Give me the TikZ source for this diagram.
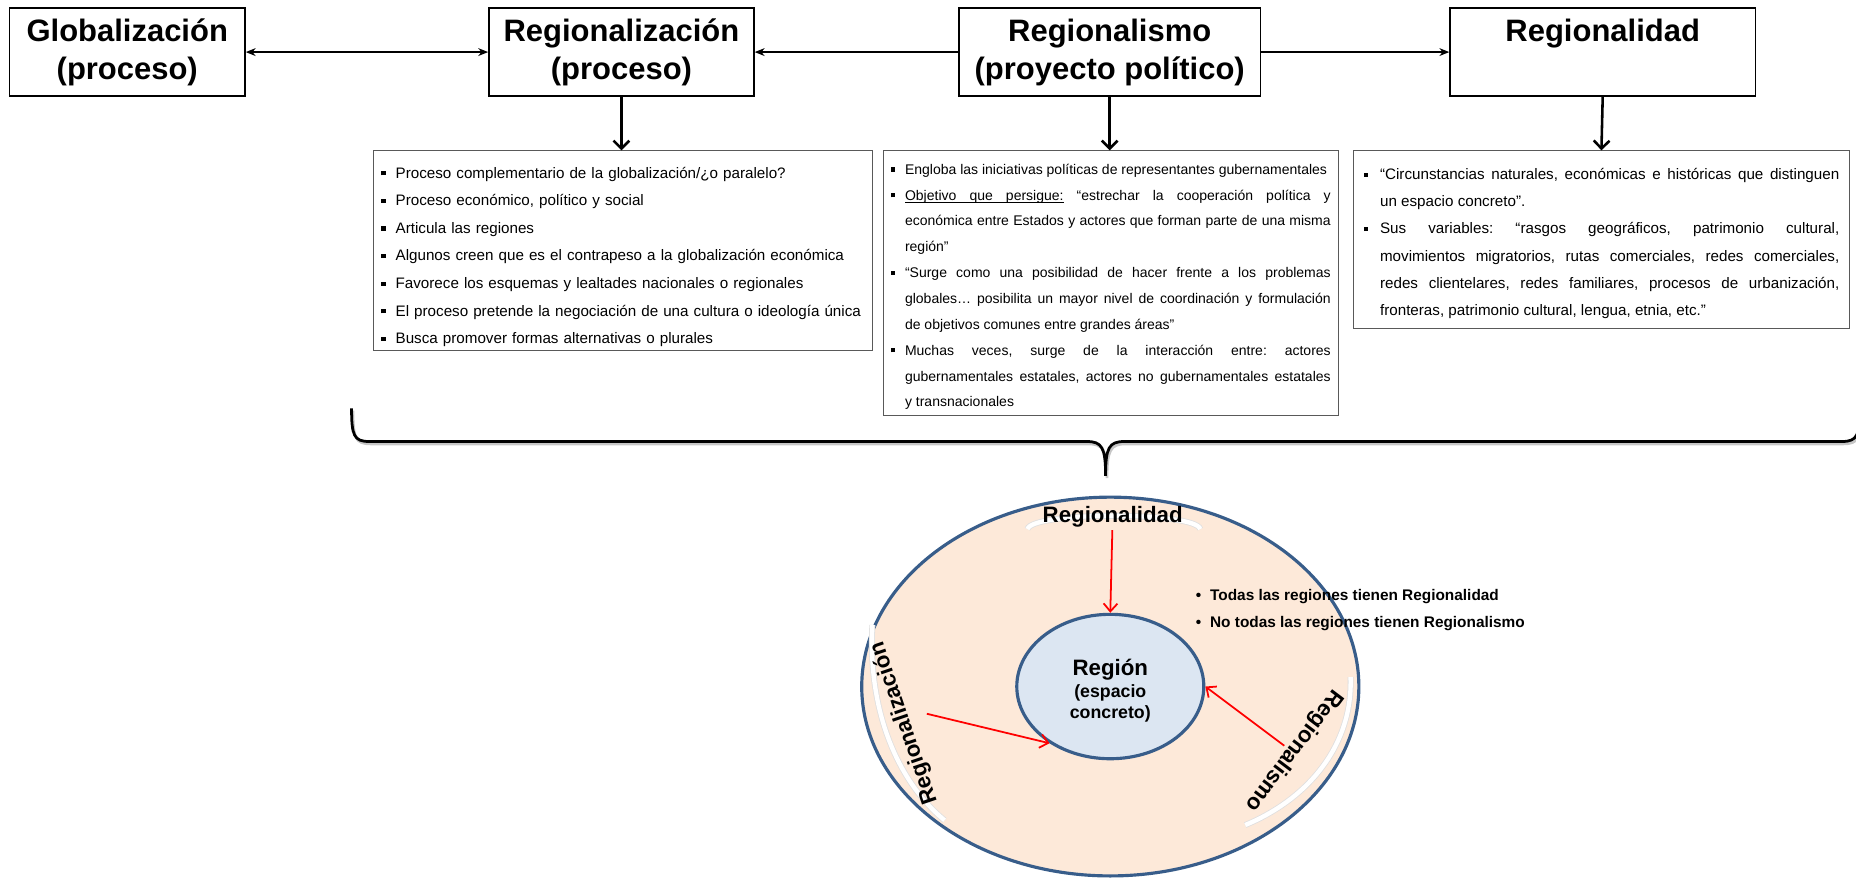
\documentclass[tikz,border=0pt]{standalone}
\usepackage{fontspec}
\setmainfont{Liberation Sans}
\usetikzlibrary{arrows.meta,shapes.geometric}

\definecolor{ringfill}{HTML}{FDE9D9}
\definecolor{corefill}{HTML}{DCE6F2}
\definecolor{ringline}{HTML}{385D8A}

\tolerance=9999
\frenchspacing
\newcommand{\sqmark}[1]{\hangindent=#1\hangafter=1\makebox[#1][l]{\rule[1.4pt]{2.1pt}{2.1pt}}}
\newcommand{\sqfirst}[2]{\ifvmode\prevdepth=-1000pt\noindent\fi\sqmark{#1}\rule{0pt}{#2}}
\newcommand{\sqitem}[1]{\par\noindent\sqmark{#1}}
\newcommand{\dotitem}{\makebox[7.2pt][l]{•}}
\newcommand{\ulword}[1]{\setbox0\hbox{#1}\rlap{\rule[-1.6pt]{\wd0}{0.45pt}}\box0\relax}
\newcommand{\ulspace}{\leaders\hrule height -1.15pt depth 1.6pt\hskip\fontdimen2\font plus\fontdimen3\font minus\fontdimen4\font}
\newcommand{\bracepath}{(297,345) .. controls (297,368) and (299,373) .. (312,373) -- (918,373) .. controls (931,373) and (934,378) .. (934,402) .. controls (934,378) and (937,373) .. (950,373) -- (1556,373) .. controls (1569,373) and (1571,368) .. (1572,345)}

\tikzset{
  >={Stealth[length=5pt,width=4pt]},
  titlebox/.style={draw, line width=0.8pt, align=center, inner sep=0pt, minimum height=44.4pt,
    font=\fontsize{15.7}{19.2}\selectfont\bfseries},
  listbox/.style={draw=gray!70!black, line width=0.5pt, anchor=north west},
  link/.style={line width=0.6pt},
  down/.style={line width=1.3pt, -{Straight Barb[length=4pt,width=8pt]}},
  redarrow/.style={red, line width=0.9pt, -{Straight Barb[length=4pt,width=7pt]}},
  ringlabel/.style={inner sep=1pt, font=\fontsize{11.3}{13}\selectfont\bfseries},
  glow/.style={draw=gray!25, double=white, double distance=2.2pt, line width=0.4pt},
}

\begin{document}
\begin{tikzpicture}[x=0.6pt,y=-0.6pt]
\useasboundingbox (0,0) rectangle (1568,741);

\node[titlebox, minimum width=119.4pt] (glob) at (107.5,44) {Globalización\\(proceso)};
\node[titlebox, minimum width=134.4pt] (regz) at (525,44) {Regionalización\\(proceso)};
\node[titlebox, minimum width=153pt] (regm) at (937.5,44) {Regionalismo\\(proyecto político)};
\node[titlebox, minimum width=154.8pt] (regd) at (1354,44) {Regionalidad\\\phantom{(p)}};

\draw[link, <->] (glob) -- (regz);
\draw[link, ->] (regm) -- (regz);
\draw[link, ->] (regm) -- (regd);

\node[listbox, text width=245pt, inner xsep=4.1pt, inner ysep=2pt, align=left,
  font=\fontsize{7.7}{14}\selectfont] (lst1) at (315,127) {%
\sqfirst{7.2pt}{11.8pt}Proceso complementario de la globalización/¿o paralelo?
\sqitem{7.2pt}Proceso económico, político y social
\sqitem{7.2pt}Articula las regiones
\sqitem{7.2pt}Algunos creen que es el contrapeso a la globalización económica
\sqitem{7.2pt}Favorece los esquemas y lealtades nacionales o regionales
\sqitem{7.2pt}El proceso pretende la negociación de una cultura o ideología única
\sqitem{7.2pt}Busca promover formas alternativas o plurales\par};

\node[listbox, text width=223pt, inner xsep=3.7pt, inner ysep=2.8pt, align=justify,
  font=\fontsize{7.1}{13.1}\selectfont] (lst2) at (746,127) {%
\sqfirst{7.2pt}{9.1pt}Engloba las iniciativas políticas de representantes gubernamentales
\sqitem{7.2pt}\ulword{Objetivo}\ulspace\ulword{que}\ulspace\ulword{persigue:} “estrechar la cooperación política y\linebreak económica entre Estados y actores que forman parte de una misma\linebreak región”
\sqitem{7.2pt}“Surge como una posibilidad de hacer frente a los problemas\linebreak globales… posibilita un mayor nivel de coordinación y formulación\linebreak de objetivos comunes entre grandes áreas”
\sqitem{7.2pt}Muchas veces, surge de la interacción entre: actores\linebreak gubernamentales estatales, actores no gubernamentales estatales\linebreak y transnacionales\par};

\node[listbox, text width=241.2pt, inner xsep=5.1pt, inner ysep=4.9pt, align=justify,
  font=\fontsize{7.7}{13.8}\selectfont] (lst3) at (1143,127) {%
\sqfirst{8.4pt}{9.6pt}“Circunstancias naturales, económicas e históricas que distinguen\linebreak un espacio concreto”.
\sqitem{8.4pt}Sus variables: “rasgos geográficos, patrimonio cultural,\linebreak movimientos migratorios, rutas comerciales, redes comerciales,\linebreak redes clientelares, redes familiares, procesos de urbanización,\linebreak fronteras, patrimonio cultural, lengua, etnia, etc.”\par};

\draw[down] (regz.south) -- (regz.south |- lst1.north);
\draw[down] (regm.south) -- (regm.south |- lst2.north);
\draw[down] (regd.south) -- (lst3.north);

\draw[gray!45, line width=1.4pt, shift={(1.2,2)}] \bracepath;
\draw[line width=1.4pt] \bracepath;

\node[ellipse, draw=ringline, line width=1.6pt, fill=ringfill, minimum width=252pt, minimum height=192pt] (ring) at (938,580) {};
\node[ellipse, draw=ringline, line width=1.6pt, fill=corefill, minimum width=94.8pt, minimum height=73.2pt,
  inner sep=0pt, align=center, font=\bfseries] (core) at (938,580)
  {\rule{0pt}{12.6pt}{\fontsize{11.3}{12}\selectfont Región}\\[-1pt]{\fontsize{9}{9.6}\selectfont (espacio}\\[-1.4pt]{\fontsize{9}{9.6}\selectfont concreto)}};

\draw[glow] (868,447) .. controls (872,432) and (1010,432) .. (1014,447);
\draw[glow] (737,528) .. controls (733,600) and (758,660) .. (798,693);
\draw[glow] (1141,572) .. controls (1143,630) and (1105,675) .. (1052,697);

\node[ringlabel] (toplbl) at (940,437) {Regionalidad};
\node[ringlabel, rotate=108.8] (leftlbl) at (764,611) {Regionalización};
\node[ringlabel, rotate=-127] (rightlbl) at (1093,634) {Regionalismo};

\coordinate (lz) at (783,603);
\coordinate (lm) at (1085,630);
\draw[redarrow] (toplbl) -- (core.north);
\draw[redarrow] (lz) -- (core.223);
\draw[redarrow] (lm) -- (core.east);

\node[anchor=west, align=left, inner sep=0pt, font=\fontsize{7.8}{13.8}\selectfont\bfseries] (notes) at (1010,515.5)
  {\dotitem Todas las regiones tienen Regionalidad\\\dotitem No todas las regiones tienen Regionalismo};
\end{tikzpicture}
\end{document}
